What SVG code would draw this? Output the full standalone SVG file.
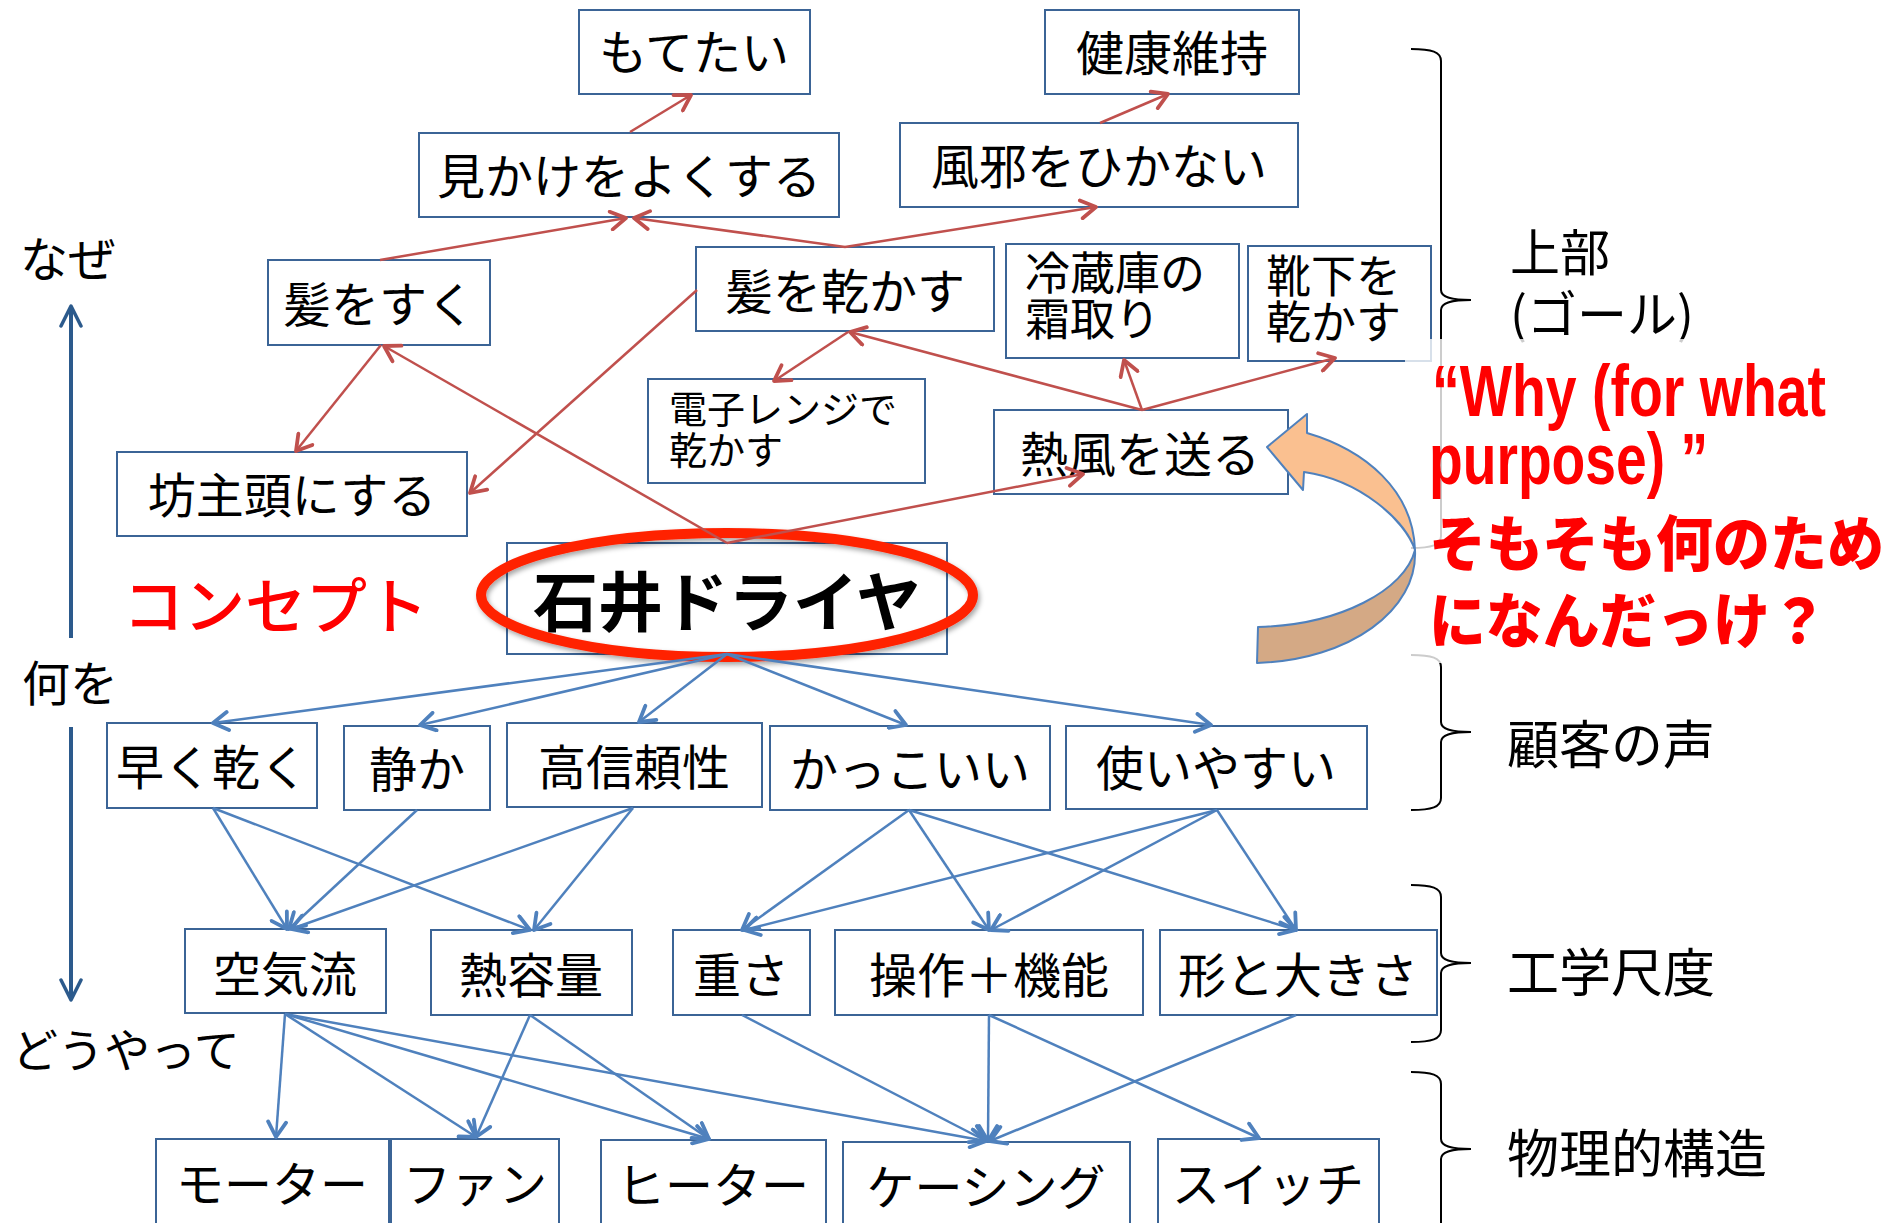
<svg xmlns="http://www.w3.org/2000/svg" width="1901" height="1223" viewBox="0 0 1901 1223">
<style>
.box{fill:#fff;stroke:#3B6496;stroke-width:2}
.t{font-family:"Noto Sans CJK JP","Noto Sans",sans-serif;font-size:48px;fill:#000;text-anchor:middle}
.t2{font-family:"Noto Sans CJK JP","Noto Sans",sans-serif;fill:#000}
.lbl{font-family:"Noto Sans CJK JP","Noto Sans",sans-serif;fill:#000}
.r{stroke:#C0504D;stroke-width:2.5;fill:none;marker-end:url(#ar)}
.b{stroke:#4F81BD;stroke-width:2.5;fill:none;marker-end:url(#ab)}
.br{fill:none;stroke:#000;stroke-width:2}
.red{fill:#FF0000}
</style>
<defs>
<marker id="ar" viewBox="-18 -11 22 22" refX="0" refY="0" markerWidth="22" markerHeight="22" markerUnits="userSpaceOnUse" orient="auto">
<path d="M-15,-9 L0,0 L-15,9" fill="none" stroke="#C0504D" stroke-width="3.8" stroke-linecap="round" stroke-linejoin="round"/>
</marker>
<marker id="ab" viewBox="-18 -11 22 22" refX="0" refY="0" markerWidth="22" markerHeight="22" markerUnits="userSpaceOnUse" orient="auto">
<path d="M-15,-9 L0,0 L-15,9" fill="none" stroke="#4F81BD" stroke-width="3.8" stroke-linecap="round" stroke-linejoin="round"/>
</marker>
<marker id="ak" viewBox="-24 -12 28 24" refX="0" refY="0" markerWidth="28" markerHeight="24" markerUnits="userSpaceOnUse" orient="auto">
<path d="M-20,-10 L0,0 L-20,10" fill="none" stroke="#2C5A8C" stroke-width="3.5" stroke-linecap="round" stroke-linejoin="round"/>
</marker>
<filter id="sh" x="-10%" y="-10%" width="120%" height="130%">
<feDropShadow dx="2" dy="3" stdDeviation="2.5" flood-color="#000" flood-opacity="0.35"/>
</filter>
</defs>
<rect x="0" y="0" width="1901" height="1223" fill="#fff"/>

<!-- side labels and axis -->
<g id="axis">
<line x1="71" y1="638" x2="71" y2="306" stroke="#2C5A8C" stroke-width="4" marker-end="url(#ak)"/>
<line x1="71" y1="727" x2="71" y2="1000" stroke="#2C5A8C" stroke-width="4" marker-end="url(#ak)"/>
<text class="lbl" x="20" y="277" font-size="48">なぜ</text>
<text class="lbl" x="22" y="701" font-size="48">何を</text>
<text class="lbl" x="12" y="1067" font-size="46">どうやって</text>
<text class="lbl red" x="123" y="629" font-size="61" font-weight="500">コンセプト</text>
</g>

<!-- nodes -->
<g id="n-moteta"><rect class="box" x="579" y="10" width="231" height="84"/><text class="t" x="694" y="70">もてたい</text></g>
<g id="n-kenko"><rect class="box" x="1045" y="10" width="254" height="84"/><text class="t" x="1172" y="71">健康維持</text></g>
<g id="n-mikake"><rect class="box" x="419" y="133" width="420" height="84"/><text class="t" x="629" y="194">見かけをよくする</text></g>
<g id="n-kaze"><rect class="box" x="900" y="123" width="398" height="84"/><text class="t" x="1099" y="184">風邪をひかない</text></g>
<g id="n-kamisuku"><rect class="box" x="268" y="260" width="222" height="85"/><text class="t" x="379" y="322">髪をすく</text></g>
<g id="n-kamikawaka"><rect class="box" x="696" y="247" width="298" height="84"/><text class="t" x="845" y="309">髪を乾かす</text></g>
<g id="n-reizoko"><rect class="box" x="1006" y="244" width="233" height="114"/><text class="t2" x="1025" y="290" font-size="45">冷蔵庫の</text><text class="t2" x="1025" y="336" font-size="45">霜取り</text></g>
<g id="n-kutsushita"><rect class="box" x="1248" y="246" width="183" height="115"/><text class="t2" x="1266" y="293" font-size="45">靴下を</text><text class="t2" x="1266" y="339" font-size="45">乾かす</text></g>
<g id="n-denshi"><rect class="box" x="648" y="379" width="277" height="104"/><text class="t2" x="669" y="423" font-size="38">電子レンジで</text><text class="t2" x="669" y="464" font-size="38">乾かす</text></g>
<g id="n-bozu"><rect class="box" x="117" y="452" width="350" height="84"/><text class="t" x="292" y="513">坊主頭にする</text></g>
<g id="n-neppu"><rect class="box" x="994" y="410" width="294" height="84"/><text class="t" x="1140" y="472">熱風を送る</text></g>
<g id="n-ishii"><rect class="box" x="507" y="543" width="440" height="111"/><text class="t" x="727" y="626" style="font-size:65px;font-weight:700">石井ドライヤ</text></g>

<g id="n-hayaku"><rect class="box" x="107" y="723" width="210" height="85"/><text class="t" x="212" y="785">早く乾く</text></g>
<g id="n-shizuka"><rect class="box" x="344" y="726" width="146" height="84"/><text class="t" x="417" y="787">静か</text></g>
<g id="n-koshinrai"><rect class="box" x="507" y="723" width="255" height="84"/><text class="t" x="634" y="785">高信頼性</text></g>
<g id="n-kakkoii"><rect class="box" x="770" y="726" width="280" height="84"/><text class="t" x="910" y="787">かっこいい</text></g>
<g id="n-tsukai"><rect class="box" x="1066" y="726" width="301" height="83"/><text class="t" x="1216" y="786">使いやすい</text></g>

<g id="n-kuki"><rect class="box" x="185" y="929" width="201" height="84"/><text class="t" x="285" y="992">空気流</text></g>
<g id="n-netsuyoryo"><rect class="box" x="431" y="930" width="201" height="85"/><text class="t" x="531" y="993">熱容量</text></g>
<g id="n-omosa"><rect class="box" x="673" y="930" width="137" height="85"/><text class="t" x="741" y="993">重さ</text></g>
<g id="n-sosa"><rect class="box" x="835" y="930" width="308" height="85"/><text class="t" x="989" y="993">操作＋機能</text></g>
<g id="n-katachi"><rect class="box" x="1160" y="930" width="277" height="85"/><text class="t" x="1298" y="993">形と大きさ</text></g>

<g id="n-motor"><rect class="box" x="156" y="1139" width="233" height="100"/><text class="t" x="272" y="1202">モーター</text></g>
<g id="n-fan"><rect class="box" x="391" y="1139" width="168" height="100"/><text class="t" x="475" y="1202">ファン</text></g>
<g id="n-heater"><rect class="box" x="601" y="1140" width="225" height="100"/><text class="t" x="713" y="1203">ヒーター</text></g>
<g id="n-casing"><rect class="box" x="843" y="1142" width="287" height="100"/><text class="t" x="986" y="1205">ケーシング</text></g>
<g id="n-switch"><rect class="box" x="1158" y="1139" width="221" height="100"/><text class="t" x="1268" y="1202">スイッチ</text></g>

<!-- concept ellipse -->
<g id="concept-ring"><ellipse cx="727" cy="595" rx="246" ry="62" fill="none" stroke="#FF2200" stroke-width="10" filter="url(#sh)"/></g>

<!-- connectors -->
<g id="connectors">
<line class="r" x1="630" y1="132" x2="691" y2="95"/>
<line class="r" x1="1100" y1="123" x2="1168" y2="94"/>
<line class="r" x1="380" y1="260" x2="626" y2="218"/>
<line class="r" x1="845" y1="247" x2="634" y2="218"/>
<line class="r" x1="845" y1="247" x2="1096" y2="207"/>
<line class="r" x1="381" y1="345" x2="296" y2="451"/>
<line class="r" x1="727" y1="543" x2="384" y2="346"/>
<line class="r" x1="697" y1="290" x2="470" y2="493"/>
<line class="r" x1="848" y1="332" x2="774" y2="381"/>
<line class="r" x1="1142" y1="410" x2="850" y2="332"/>
<line class="r" x1="1142" y1="410" x2="1124" y2="360"/>
<line class="r" x1="1142" y1="410" x2="1335" y2="358"/>
<line class="r" x1="727" y1="543" x2="1083" y2="474"/>

<line class="b" x1="727" y1="654" x2="213" y2="723"/>
<line class="b" x1="727" y1="654" x2="420" y2="725"/>
<line class="b" x1="727" y1="654" x2="639" y2="722"/>
<line class="b" x1="727" y1="654" x2="906" y2="725"/>
<line class="b" x1="727" y1="654" x2="1211" y2="725"/>

<line class="b" x1="213" y1="808" x2="287" y2="929"/>
<line class="b" x1="213" y1="808" x2="530" y2="930"/>
<line class="b" x1="417" y1="810" x2="289" y2="929"/>
<line class="b" x1="633" y1="808" x2="291" y2="929"/>
<line class="b" x1="633" y1="808" x2="534" y2="930"/>
<line class="b" x1="909" y1="810" x2="742" y2="930"/>
<line class="b" x1="909" y1="810" x2="989" y2="930"/>
<line class="b" x1="909" y1="810" x2="1296" y2="930"/>
<line class="b" x1="1217" y1="810" x2="744" y2="930"/>
<line class="b" x1="1217" y1="810" x2="991" y2="930"/>
<line class="b" x1="1217" y1="810" x2="1296" y2="930"/>

<line class="b" x1="285" y1="1014" x2="276" y2="1137"/>
<line class="b" x1="285" y1="1014" x2="476" y2="1137"/>
<line class="b" x1="285" y1="1014" x2="709" y2="1139"/>
<line class="b" x1="285" y1="1014" x2="986" y2="1141"/>
<line class="b" x1="530" y1="1015" x2="476" y2="1137"/>
<line class="b" x1="530" y1="1015" x2="709" y2="1139"/>
<line class="b" x1="742" y1="1015" x2="986" y2="1141"/>
<line class="b" x1="989" y1="1015" x2="988" y2="1141"/>
<line class="b" x1="989" y1="1015" x2="1259" y2="1138"/>
<line class="b" x1="1296" y1="1015" x2="990" y2="1141"/>
</g>

<!-- braces -->
<g id="braces">
<path class="br" d="M1411,49 C1432,49 1441,52 1441,61 L1441,290 C1441,297 1450,300 1471,300 C1450,300 1441,303 1441,310 L1441,536 C1441,545 1432,548 1411,548"/>
<path class="br" d="M1411,655 C1432,655 1441,658 1441,667 L1441,722 C1441,729 1450,732 1471,732 C1450,732 1441,735 1441,742 L1441,798 C1441,807 1432,810 1411,810"/>
<path class="br" d="M1411,885 C1432,885 1441,888 1441,897 L1441,953 C1441,960 1450,963 1471,963 C1450,963 1441,966 1441,973 L1441,1030 C1441,1039 1432,1042 1411,1042"/>
<path class="br" d="M1411,1072 C1432,1072 1441,1075 1441,1084 L1441,1139 C1441,1146 1450,1149 1471,1149 C1450,1149 1441,1152 1441,1159 L1441,1240"/>
<text class="lbl" x="1510" y="271" font-size="50">上部</text>
<text class="lbl" x="1510" y="333" font-size="50">(ゴール)</text>
<text class="lbl" x="1507" y="764" font-size="52">顧客の声</text>
<text class="lbl" x="1507" y="992" font-size="52">工学尺度</text>
<text class="lbl" x="1507" y="1173" font-size="52">物理的構造</text>
</g>

<!-- semi-transparent text box -->
<rect x="1405" y="339" width="496" height="324" fill="#fff" opacity="0.8"/>

<!-- curved arrow -->
<g id="curved-arrow" stroke="#4F81BD" stroke-width="2" stroke-linejoin="round">
<path d="M1415,550 C1418,610 1350,660 1257,663 L1258,627 C1340,625 1405,590 1415,550 Z" fill="#D4A985"/>
<path d="M1267,447 L1307,414 L1307,433 C1365,450 1413,490 1415,550 C1405,520 1360,480 1304,472 L1303,490 Z" fill="#FAC090"/>
</g>

<!-- red question text -->
<g id="question">
<text class="red" x="1432" y="416" font-family="'Liberation Sans',Arial,sans-serif" font-weight="700" font-size="72" textLength="394" lengthAdjust="spacingAndGlyphs">“Why (for what</text>
<text class="red" x="1429" y="484" font-family="'Liberation Sans',Arial,sans-serif" font-weight="700" font-size="72" textLength="279" lengthAdjust="spacingAndGlyphs">purpose) ”</text>
<text class="red" x="1429" y="566" font-family="'Noto Sans CJK JP',sans-serif" font-weight="900" font-size="60" textLength="455" lengthAdjust="spacingAndGlyphs">そもそも何のため</text>
<text class="red" x="1429" y="643" font-family="'Noto Sans CJK JP',sans-serif" font-weight="900" font-size="60" textLength="398" lengthAdjust="spacingAndGlyphs">になんだっけ？</text>
</g>
</svg>
